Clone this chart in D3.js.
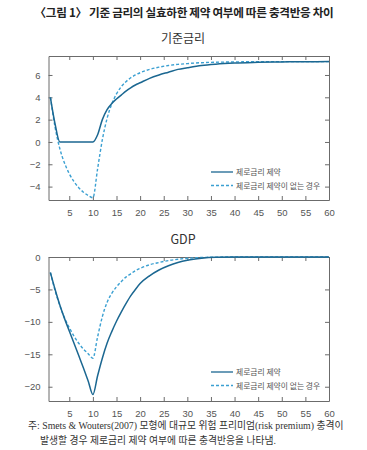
<!DOCTYPE html>
<html>
<head>
<meta charset="utf-8">
<script src="https://cdnjs.cloudflare.com/ajax/libs/d3/7.8.5/d3.min.js"></script>
<style>
    body { margin: 0; background: #fff; }
    svg text { font-family: "Noto Sans CJK KR", "Noto Sans", sans-serif; }
</style>
</head>
<body>
<div id="chart"></div>
<script>
var periods = [1, 2, 3, 4, 5, 6, 7, 8, 9, 10, 11, 12, 13, 14, 15, 16, 17, 18, 19, 20,
    22, 24, 26, 28, 30, 33, 36, 40, 45, 50, 55, 60];

// 기준금리
var rateZlb = [4.0, 1.6, 0, 0, 0, 0, 0, 0, 0, 0, 0.65, 2.0, 2.9, 3.45, 3.85, 4.2, 4.55, 4.85, 5.1, 5.3,
    5.7, 6.0, 6.25, 6.5, 6.65, 6.85, 6.97, 7.07, 7.13, 7.17, 7.19, 7.2];
var rateNoZlb = [4.0, 1.3, -0.6, -1.9, -2.85, -3.55, -4.1, -4.5, -4.8, -5.0, -2.4, 0.2, 2.1, 3.4, 4.3, 4.95, 5.4, 5.75, 6.0, 6.2,
    6.5, 6.7, 6.85, 6.95, 7.02, 7.1, 7.14, 7.17, 7.19, 7.2, 7.2, 7.2];

// GDP
var gdpZlb = [-2.4, -5.0, -7.4, -9.5, -11.4, -13.3, -15.2, -17.1, -19.1, -21.2, -18.3, -15.6, -13.3, -11.5, -9.9, -8.5, -7.2, -6.0, -5.0, -4.1,
    -2.9, -2.0, -1.35, -0.85, -0.5, -0.2, -0.05, 0, 0, 0, 0, 0];
var gdpNoZlb = [-2.4, -5.2, -7.5, -9.4, -10.9, -12.2, -13.3, -14.2, -14.9, -15.6, -12.3, -9.2, -7.0, -5.6, -4.6, -3.8, -3.1, -2.6, -2.1, -1.75,
    -1.2, -0.85, -0.55, -0.35, -0.2, -0.08, -0.02, 0, 0, 0, 0, 0];

var xTicks = [5, 10, 15, 20, 25, 30, 35, 40, 45, 50, 55, 60];
var rateTicks = [-4, -2, 0, 2, 4, 6];
var gdpTicks = [-20, -15, -10, -5, 0];
var legendLabels = ['제로금리 제약', '제로금리 제약이 없는 경우'];

var solidColor = '#1b6791';
var dashColor = '#3ba0d2';
var axisColor = '#6b6b6b';

var svg = d3.select('#chart')
    .append('svg')
    .attr('width', 367)
    .attr('height', 450);

svg.append('text')
    .attr('x', 184)
    .attr('y', 17)
    .attr('text-anchor', 'middle')
    .attr('font-size', 11.6)
    .attr('letter-spacing', -0.3)
    .attr('font-weight', 'bold')
    .attr('fill', '#222')
    .text('〈그림 1〉 기준 금리의 실효하한 제약 여부에 따른 충격반응 차이');

drawPanel({
    title: '기준금리', titleY: 43, titleSize: 12,
    top: 56, bottom: 200, domain: [-5.2, 7.7], ticks: rateTicks,
    solid: rateZlb, dashed: rateNoZlb, legendY: 172
});

drawPanel({
    title: 'GDP', titleY: 244, titleSize: 12.5,
    top: 257, bottom: 401, domain: [-22.2, 0], ticks: gdpTicks,
    solid: gdpZlb, dashed: gdpNoZlb, legendY: 372
});

function drawPanel (opt) {
    var left = 48.5, right = 329;
    var x = d3.scaleLinear().domain([0.6, 60]).range([left, right]);
    var y = d3.scaleLinear().domain(opt.domain).range([opt.bottom, opt.top]);

    svg.append('text')
        .attr('x', 183)
        .attr('y', opt.titleY)
        .attr('text-anchor', 'middle')
        .attr('font-size', opt.titleSize)
        .attr('fill', '#333')
        .text(opt.title);

    var g = svg.append('g');

    // ticks inside box, all four sides
    var axes = [
        d3.axisBottom(x).tickValues(xTicks).tickSizeInner(-4).tickSizeOuter(0).tickPadding(9),
        d3.axisTop(x).tickValues(xTicks).tickSizeInner(-4).tickSizeOuter(0).tickFormat(''),
        d3.axisLeft(y).tickValues(opt.ticks).tickSizeInner(-4).tickSizeOuter(0).tickPadding(8),
        d3.axisRight(y).tickValues(opt.ticks).tickSizeInner(-4).tickSizeOuter(0).tickFormat('')
    ];
    var shifts = [
        'translate(0,' + opt.bottom + ')',
        'translate(0,' + opt.top + ')',
        'translate(' + left + ',0)',
        'translate(' + right + ',0)'
    ];
    axes.forEach(function (ax, i) {
        var a = g.append('g').attr('transform', shifts[i]).call(ax);
        a.select('.domain').attr('stroke', axisColor);
        a.selectAll('line').attr('stroke', axisColor);
        a.selectAll('text')
            .attr('fill', '#555')
            .attr('font-size', 9.5)
            .style('font-family', '"Liberation Sans Narrow", "Liberation Sans", sans-serif');
    });

    var line = d3.line()
        .x(function (d, i) { return x(periods[i]); })
        .y(function (d) { return y(d); })
        .curve(d3.curveMonotoneX);

    g.append('path')
        .attr('d', line(opt.dashed))
        .attr('fill', 'none')
        .attr('stroke', dashColor)
        .attr('stroke-width', 1.4)
        .attr('stroke-dasharray', '3,2');

    g.append('path')
        .attr('d', line(opt.solid))
        .attr('fill', 'none')
        .attr('stroke', solidColor)
        .attr('stroke-width', 1.5);

    var lg = g.selectAll('g.legend')
        .data(legendLabels)
        .enter()
        .append('g')
        .attr('class', 'legend')
        .attr('transform', function (d, i) {
            return 'translate(211,' + (opt.legendY + i * 13.5) + ')';
        });

    lg.append('line')
        .attr('x1', 0).attr('x2', 22)
        .attr('stroke', function (d, i) { return i ? dashColor : solidColor; })
        .attr('stroke-width', 1.3)
        .attr('stroke-dasharray', function (d, i) { return i ? '3,2' : null; });

    lg.append('text')
        .attr('x', 25)
        .attr('y', 3)
        .attr('font-size', 7.8)
        .attr('fill', '#555')
        .text(function (d) { return d; });
}

var note = svg.append('text')
    .attr('font-size', 9.8)
    .attr('fill', '#333')
    .style('font-family', '"Liberation Serif", "Noto Sans CJK KR", serif');

note.append('tspan')
    .attr('x', 28).attr('y', 429)
    .text('주: Smets & Wouters(2007) 모형에 대규모 위험 프리미엄(risk premium) 충격이');
note.append('tspan')
    .attr('x', 40).attr('y', 444)
    .text('발생할 경우 제로금리 제약 여부에 따른 충격반응을 나타냄.');
</script>
</body>
</html>
